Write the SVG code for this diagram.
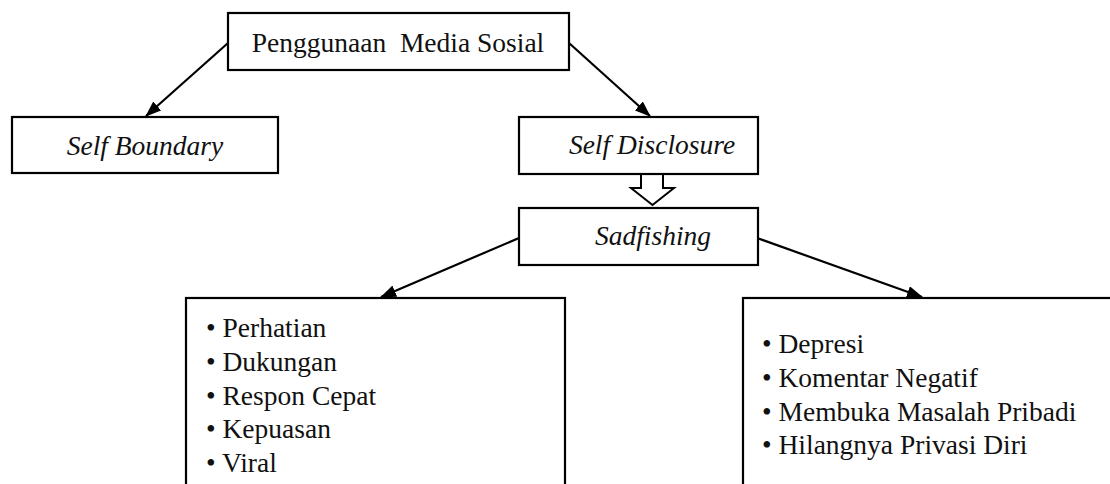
<svg xmlns="http://www.w3.org/2000/svg" width="1110" height="484" viewBox="0 0 1110 484">
<style>
.box{fill:#fff;stroke:#000;stroke-width:2.2}
.t{font-family:'Liberation Serif','Times New Roman','DejaVu Serif',serif;font-size:27.5px;fill:#111}
.i{font-style:italic}
.c{text-anchor:middle}
.ln{stroke:#000;stroke-width:2.2;fill:none}
</style>
<defs>
<marker id="ah" viewBox="0 0 16 12" refX="15" refY="6" markerWidth="16" markerHeight="12" markerUnits="userSpaceOnUse" orient="auto">
<path d="M0,0 L16,6 L0,12 Z" fill="#000"/>
</marker>
</defs>
<rect width="1110" height="484" fill="#fff"/>
<g id="connectors">
<line class="ln" x1="228" y1="43" x2="146" y2="116" marker-end="url(#ah)"/>
<line class="ln" x1="569" y1="43" x2="650" y2="116" marker-end="url(#ah)"/>
<line class="ln" x1="519" y1="238" x2="381" y2="297" marker-end="url(#ah)"/>
<line class="ln" x1="757" y1="238" x2="922" y2="297" marker-end="url(#ah)"/>
<path d="M641,174 L641,188 L631,188 L652.5,205 L674,188 L663,188 L663,174" fill="#fff" stroke="#000" stroke-width="2"/>
</g>
<g id="n-media">
<rect class="box" x="228" y="13" width="341" height="57"/>
<text class="t c" font-family="Liberation Serif, serif" x="398" y="52" xml:space="preserve">Penggunaan  Media Sosial</text>
</g>
<g id="n-boundary">
<rect class="box" x="12" y="117" width="266" height="56"/>
<text class="t i c" x="145" y="155">Self Boundary</text>
</g>
<g id="n-disclosure">
<rect class="box" x="519" y="117" width="239" height="57"/>
<text class="t i c" x="652" y="154">Self Disclosure</text>
</g>
<g id="n-sadfishing">
<rect class="box" x="519" y="208" width="239" height="57"/>
<text class="t i c" x="653" y="245">Sadfishing</text>
</g>
<g id="n-positive">
<rect class="box" x="186" y="298" width="379" height="200"/>
<text class="t" x="206" y="337">• Perhatian</text>
<text class="t" x="206" y="371">• Dukungan</text>
<text class="t" x="206" y="405">• Respon Cepat</text>
<text class="t" x="206" y="438">• Kepuasan</text>
<text class="t" x="206" y="472">• Viral</text>
</g>
<g id="n-negative">
<rect class="box" x="743" y="298" width="380" height="200"/>
<text class="t" x="762" y="353">• Depresi</text>
<text class="t" x="762" y="387">• Komentar Negatif</text>
<text class="t" x="762" y="421">• Membuka Masalah Pribadi</text>
<text class="t" x="762" y="454">• Hilangnya Privasi Diri</text>
</g>
</svg>
